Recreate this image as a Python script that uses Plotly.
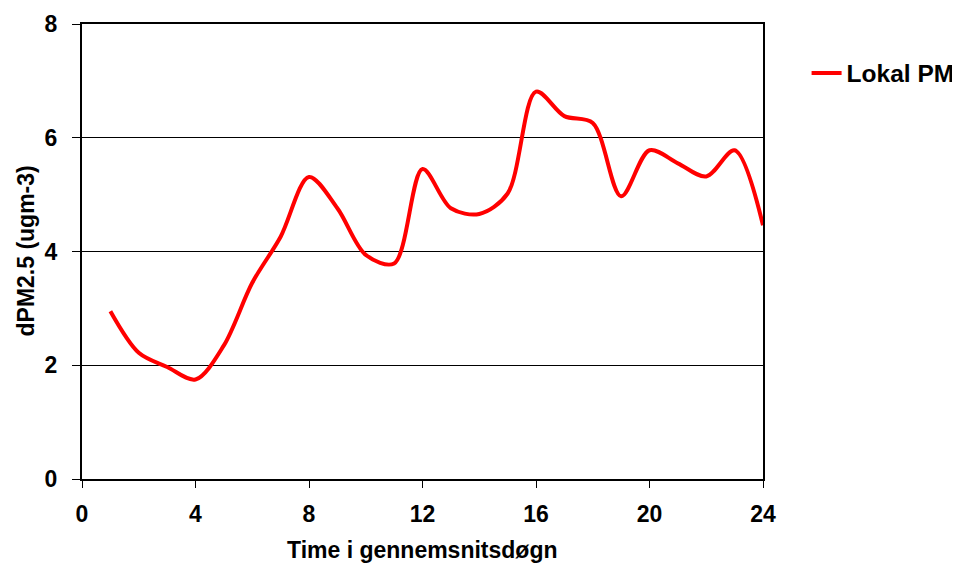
import plotly.graph_objects as go

hours = list(range(1, 25))
lokal_pm = [2.95, 2.22, 1.97, 1.75, 2.35, 3.45, 4.26, 5.31, 4.76, 3.94, 3.79, 5.45,
            4.76, 4.66, 5.02, 6.81, 6.38, 6.26, 4.97, 5.78, 5.55, 5.32, 5.78, 4.46]
x_ticks = [0, 4, 8, 12, 16, 20, 24]
y_ticks = [0, 2, 4, 6, 8]

font_family = "Arial, Liberation Sans, sans-serif"
FS = 23

fig = go.Figure()
fig.add_trace(go.Scatter(
    x=hours, y=lokal_pm, mode="lines", name="<b>Lokal PM</b>",
    line=dict(color="#ff0000", width=4, shape="spline", smoothing=0.9),
))

fig.update_layout(
    width=1000, height=563,
    margin=dict(l=74, r=245, t=16, b=92),
    paper_bgcolor="white", plot_bgcolor="white",
    font=dict(family=font_family, color="black", size=FS),
    showlegend=True,
    legend=dict(x=1.064, y=(479 - 73) / 455, xanchor="left", yanchor="middle",
                font=dict(family=font_family, size=24.5, color="black"),
                bgcolor="rgba(0,0,0,0)", itemwidth=30),
    xaxis=dict(
        range=[0, 24], tickvals=x_ticks, ticktext=[f"<b>{v}</b>" for v in x_ticks],
        showgrid=False, zeroline=False, automargin=False,
        showline=True, linecolor="black", linewidth=2, mirror=True,
        ticks="outside", ticklen=7, tickcolor="black", tickwidth=1,
        ticklabelstandoff=6,
        tickfont=dict(size=FS),
    ),
    yaxis=dict(
        range=[0, 8], tickvals=y_ticks, ticktext=[f"<b>{v}</b>" for v in y_ticks],
        showgrid=True, gridcolor="black", gridwidth=1, zeroline=False, automargin=False,
        showline=True, linecolor="black", linewidth=2, mirror=True,
        ticks="outside", ticklen=8, tickcolor="black", tickwidth=1,
        ticklabelstandoff=10,
        tickfont=dict(size=FS),
    ),
    annotations=[
        dict(text="<b>Time i gennemsnitsdøgn</b>", xref="paper", yref="paper",
             x=0.5, y=-(550 - 479) / 455, xanchor="center", yanchor="middle",
             showarrow=False, font=dict(size=FS)),
        dict(text="<b>dPM2.5 (ugm-3)</b>", xref="paper", yref="paper",
             x=(25 - 82) / 681, y=0.5, xanchor="center", yanchor="middle",
             textangle=-90, showarrow=False, font=dict(size=FS)),
    ],
)

fig.write_html("out.html")
